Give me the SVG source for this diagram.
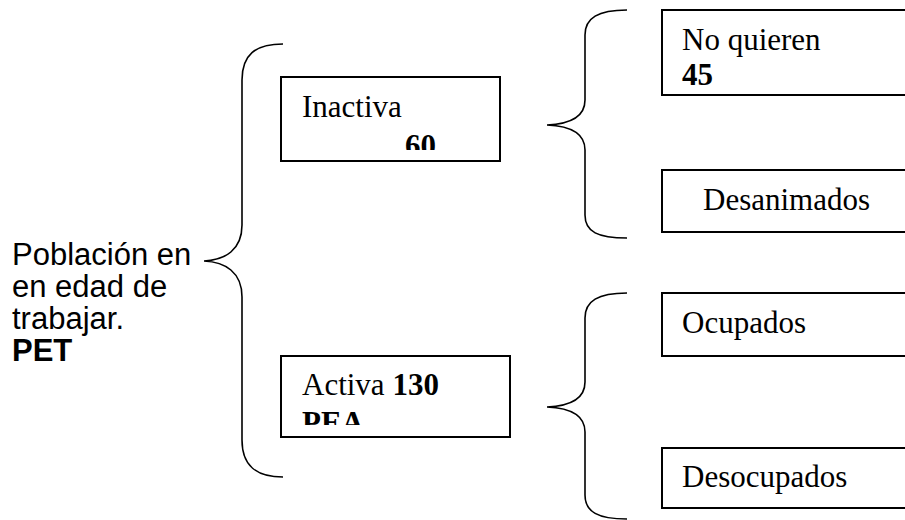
<svg xmlns="http://www.w3.org/2000/svg" width="905" height="520" viewBox="0 0 905 520">
  <style>
    .box { fill: #ffffff; stroke: #000000; stroke-width: 2; }
    .brace { fill: none; stroke: #000000; stroke-width: 1.6; }
    .serif { font-family: "Liberation Serif", "Times New Roman", serif; font-size: 31px; fill: #000000; }
    .sans { font-family: "Liberation Sans", Arial, sans-serif; font-size: 31px; fill: #000000; }
    .b { font-weight: bold; }
  </style>
  <defs>
    <clipPath id="clip-inactiva"><rect x="282" y="78" width="217" height="72"/></clipPath>
    <clipPath id="clip-activa"><rect x="282" y="357" width="227" height="68"/></clipPath>
  </defs>

  <rect width="905" height="520" fill="#ffffff"/>

  <!-- braces linking each level to the next -->
  <g id="connectors">
    <path class="brace" d="M283,44 C255,44 242,55 242,80 L242,225 C242,250 225,260 204,261 C225,262 242,272 242,297 L242,440 C242,465 255,477 283,477"/>
    <path class="brace" d="M627,10 C598,10 585,18 585,35 L585,100 C585,117 570,124 547,125 C570,126 585,133 585,150 L585,215 C585,232 598,238 627,238"/>
    <path class="brace" d="M627,293 C598,293 585,301 585,318 L585,382 C585,399 570,406 547,407 C570,408 585,415 585,432 L585,495 C585,512 598,519 627,519"/>
  </g>

  <g id="pet">
    <text class="sans" x="12" y="265">Población en</text>
    <text class="sans" x="12" y="297">en edad de</text>
    <text class="sans" x="12" y="329">trabajar.</text>
    <text class="sans b" x="12" y="361">PET</text>
  </g>

  <g id="inactiva">
    <rect class="box" x="281" y="77" width="219" height="84"/>
    <g clip-path="url(#clip-inactiva)">
      <text class="serif" x="302" y="117">Inactiva</text>
      <text class="serif b" x="405" y="156">60</text>
    </g>
  </g>

  <g id="activa">
    <rect class="box" x="281" y="356" width="229" height="81"/>
    <g clip-path="url(#clip-activa)">
      <text class="serif" x="302" y="395">Activa <tspan class="b">130</tspan></text>
      <text class="serif b" x="302" y="433">PEA</text>
    </g>
  </g>

  <g id="no-quieren">
    <rect class="box" x="662" y="10" width="260" height="85"/>
    <text class="serif" x="682" y="50">No quieren</text>
    <text class="serif b" x="682" y="85">45</text>
  </g>

  <g id="desanimados">
    <rect class="box" x="662" y="170" width="260" height="62"/>
    <text class="serif" x="703" y="210">Desanimados</text>
  </g>

  <g id="ocupados">
    <rect class="box" x="662" y="293" width="260" height="63"/>
    <text class="serif" x="682" y="333">Ocupados</text>
  </g>

  <g id="desocupados">
    <rect class="box" x="662" y="448" width="260" height="60"/>
    <text class="serif" x="682" y="487">Desocupados</text>
  </g>
</svg>
